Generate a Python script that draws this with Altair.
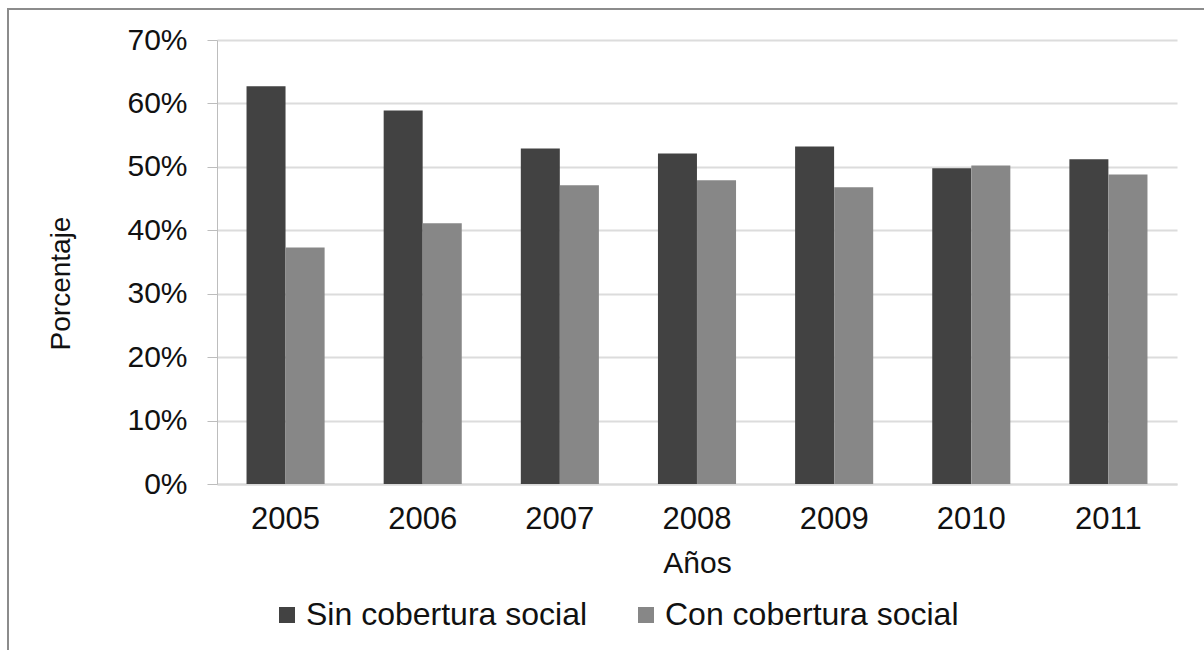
import altair as alt
import pandas as pd

# Share of people by social-security coverage, per year (percent)
years = ["2005", "2006", "2007", "2008", "2009", "2010", "2011"]
sin_cobertura = [62.7, 58.9, 52.9, 52.1, 53.2, 49.8, 51.2]
con_cobertura = [37.3, 41.1, 47.1, 47.9, 46.8, 50.2, 48.8]
series = ["Sin cobertura social", "Con cobertura social"]
y_ticks = [0, 10, 20, 30, 40, 50, 60, 70]

rows = []
for i, year in enumerate(years):
    rows.append({"Año": year, "Serie": series[0], "Valor": sin_cobertura[i]})
    rows.append({"Año": year, "Serie": series[1], "Valor": con_cobertura[i]})
df = pd.DataFrame(rows)

FONT = "Liberation Sans"
TEXT = "#111111"

bars = alt.Chart(df).mark_bar(size=39).encode(
    x=alt.X(
        "Año:N",
        sort=years,
        scale=alt.Scale(paddingInner=0.43, paddingOuter=0.215),
        axis=alt.Axis(
            title="Años",
            labelAngle=0,
            labelFontSize=31,
            labelPadding=20,
            ticks=False,
            tickSize=0,
            domainColor="#d9d9d9",
            domainWidth=2,
            titleFontSize=30,
            titleFontWeight="normal",
            titleBaseline="alphabetic",
            titleY=88,
        ),
    ),
    xOffset=alt.XOffset("Serie:N", sort=series),
    y=alt.Y(
        "Valor:Q",
        scale=alt.Scale(domain=[0, 70], nice=False),
        axis=alt.Axis(
            title="Porcentaje",
            values=y_ticks,
            labelExpr="datum.value + '%'",
            labelFontSize=30,
            labelPadding=20,
            tickSize=10,
            tickColor="#bdbdbd",
            domainColor="#bdbdbd",
            gridColor="#dcdcdc",
            gridWidth=2,
            titleFontSize=28,
            titleFontWeight="normal",
            titleAngle=-90,
            titleAlign="center",
            titleBaseline="alphabetic",
            titleX=-148,
            titleY=243,
        ),
    ),
    color=alt.Color(
        "Serie:N",
        sort=series,
        scale=alt.Scale(domain=series, range=["#424242", "#878787"]),
        legend=alt.Legend(
            title=None,
            orient="none",
            direction="horizontal",
            legendX=54,
            legendY=559,
            symbolType="square",
            symbolSize=256,
            symbolStrokeWidth=0,
            labelFontSize=32,
            labelOffset=3,
            labelLimit=600,
            columnPadding=42,
            padding=0,
        ),
    ),
)

# Thin grey frame along the top and left edges of the figure
frame_top = alt.Chart(df).mark_rule(color="#8c8c8c", strokeWidth=2).encode(
    x=alt.value(-209), x2=alt.value(1100), y=alt.value(-31)
)
frame_left = alt.Chart(df).mark_rule(color="#8c8c8c", strokeWidth=2).encode(
    x=alt.value(-209), y=alt.value(-32), y2=alt.value(700)
)

chart = (
    alt.layer(bars, frame_top, frame_left)
    .properties(
        width=960,
        height=444,
        autosize=alt.AutoSizeParams(type="none"),
        padding={"left": 217, "top": 40, "right": 27, "bottom": 166},
        background="white",
    )
    .configure_view(stroke=None)
    .configure_axis(labelFont=FONT, titleFont=FONT, labelColor=TEXT, titleColor=TEXT)
    .configure_legend(labelFont=FONT, labelColor=TEXT)
)

chart.save("out.html", embed_options={"renderer": "svg", "actions": False})
